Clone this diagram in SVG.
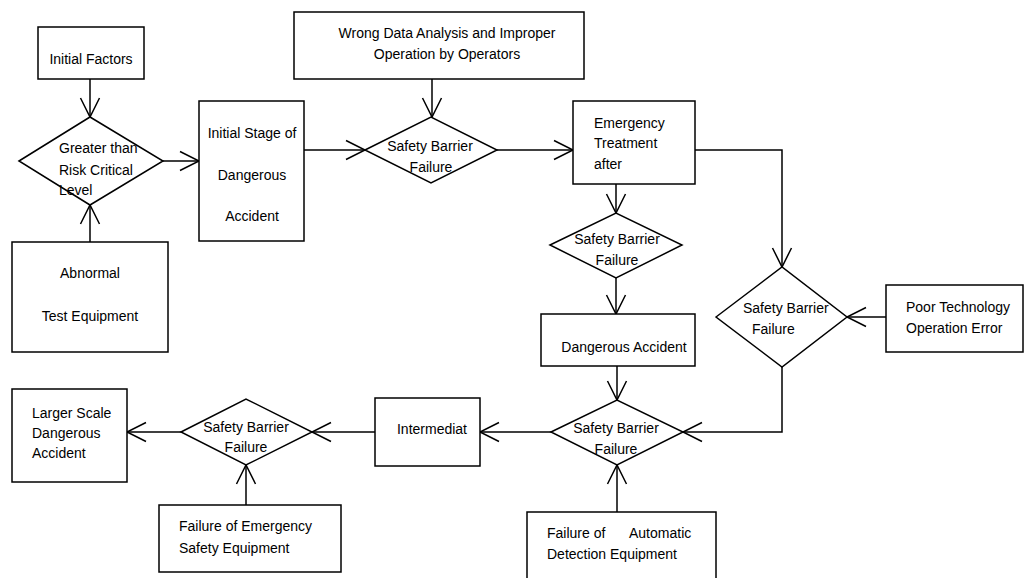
<svg xmlns="http://www.w3.org/2000/svg" width="1024" height="578" viewBox="0 0 1024 578">
<style>
.b{fill:#fff;stroke:#000;stroke-width:1.5}
.c{fill:none;stroke:#000;stroke-width:1.5}
text{font-family:"Liberation Sans",Arial,sans-serif;font-size:14px;fill:#000}
.m{text-anchor:middle}
</style>
<defs>
<marker id="a" markerUnits="userSpaceOnUse" markerWidth="24" markerHeight="24" viewBox="-22 -12 24 24" refX="0" refY="0" orient="auto">
<path d="M-19,-9.5 L0,0 L-19,9.5" fill="none" stroke="#000" stroke-width="1.5"/>
</marker>
</defs>
<rect width="1024" height="578" fill="#fff"/>
<g id="connectors">
<path class="c" marker-end="url(#a)" d="M90,79 V117"/>
<path class="c" marker-end="url(#a)" d="M90,242 V205"/>
<path class="c" marker-end="url(#a)" d="M163,161 H199"/>
<path class="c" marker-end="url(#a)" d="M304,150 H365"/>
<path class="c" marker-end="url(#a)" d="M432,79 V117"/>
<path class="c" marker-end="url(#a)" d="M497,150 H573"/>
<path class="c" marker-end="url(#a)" d="M695,150 H782 V267"/>
<path class="c" marker-end="url(#a)" d="M616,184 V213"/>
<path class="c" marker-end="url(#a)" d="M616,278 V314"/>
<path class="c" marker-end="url(#a)" d="M886,317 H847"/>
<path class="c" marker-end="url(#a)" d="M782,367 V432 H683"/>
<path class="c" marker-end="url(#a)" d="M617,366 V400"/>
<path class="c" marker-end="url(#a)" d="M617,512 V465"/>
<path class="c" marker-end="url(#a)" d="M551,432 H480"/>
<path class="c" marker-end="url(#a)" d="M375,432 H312"/>
<path class="c" marker-end="url(#a)" d="M181,432 H127"/>
<path class="c" marker-end="url(#a)" d="M246,505 V465"/>
</g>
<g id="initial-factors"><rect class="b" x="38" y="27" width="106" height="52"/><text class="m" x="91" y="64">Initial Factors</text></g>
<g id="greater-than"><polygon class="b" points="19,161 90,117 163,161 90,205"/><text x="59" y="153">Greater than</text><text x="59" y="175">Risk Critical</text><text x="59" y="195">Level</text></g>
<g id="abnormal"><rect class="b" x="12" y="242" width="156" height="110"/><text class="m" x="90" y="278">Abnormal</text><text class="m" x="90" y="321">Test Equipment</text></g>
<g id="initial-stage"><rect class="b" x="199" y="101" width="105" height="140"/><text class="m" x="252" y="138">Initial Stage of</text><text class="m" x="252" y="180">Dangerous</text><text class="m" x="252" y="221">Accident</text></g>
<g id="wrong-data"><rect class="b" x="294" y="12" width="290" height="67"/><text class="m" x="447" y="38">Wrong Data Analysis and Improper</text><text class="m" x="447" y="59">Operation by Operators</text></g>
<g id="barrier1"><polygon class="b" points="365,150 431,117 497,150 431,183"/><text class="m" x="430" y="151">Safety Barrier</text><text class="m" x="431" y="172">Failure</text></g>
<g id="emergency"><rect class="b" x="573" y="101" width="122" height="83"/><text x="594" y="128">Emergency</text><text x="594" y="148">Treatment</text><text x="594" y="169">after</text></g>
<g id="barrier2"><polygon class="b" points="550,245 616,213 682,245 616,278"/><text class="m" x="617" y="244">Safety Barrier</text><text class="m" x="617" y="265">Failure</text></g>
<g id="dangerous-accident"><rect class="b" x="541" y="314" width="154" height="52"/><text class="m" x="624" y="352">Dangerous Accident</text></g>
<g id="barrier3"><polygon class="b" points="716,317 782,267 847,317 782,367"/><text x="743" y="313">Safety Barrier</text><text x="752" y="334">Failure</text></g>
<g id="poor-technology"><rect class="b" x="886" y="285" width="137" height="67"/><text x="906" y="312">Poor Technology</text><text x="906" y="333">Operation Error</text></g>
<g id="barrier4"><polygon class="b" points="551,432 617,400 683,432 617,465"/><text class="m" x="616" y="433">Safety Barrier</text><text class="m" x="616" y="454">Failure</text></g>
<g id="automatic-detection"><rect class="b" x="527" y="512" width="189" height="80"/><text x="547" y="538">Failure of<tspan x="629">Automatic</tspan></text><text x="547" y="559">Detection Equipment</text></g>
<g id="intermediat"><rect class="b" x="375" y="398" width="105" height="68"/><text class="m" x="432" y="434">Intermediat</text></g>
<g id="barrier5"><polygon class="b" points="181,432 246,399 312,432 246,465"/><text class="m" x="246" y="432">Safety Barrier</text><text class="m" x="246" y="452">Failure</text></g>
<g id="larger-scale"><rect class="b" x="12" y="389" width="115" height="93"/><text x="32" y="418">Larger Scale</text><text x="32" y="438">Dangerous</text><text x="32" y="458">Accident</text></g>
<g id="emergency-safety"><rect class="b" x="159" y="505" width="182" height="67"/><text x="179" y="531">Failure of Emergency</text><text x="179" y="553">Safety Equipment</text></g>
</svg>
